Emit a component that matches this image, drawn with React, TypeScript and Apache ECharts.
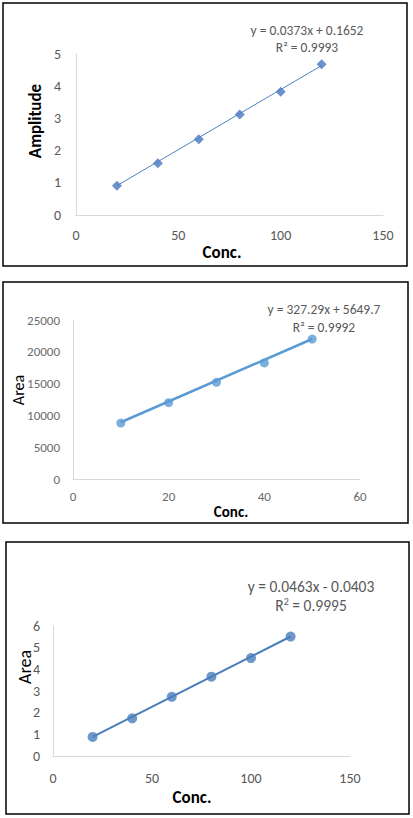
import React, { useEffect, useRef } from "react";
import * as echarts from "echarts";

// Chart 1: Amplitude vs Conc.
const ampConc = [20, 40, 60, 80, 100, 120];
const ampValues = [0.91, 1.61, 2.35, 3.12, 3.83, 4.68];
const ampFit = [0.0373, 0.1652]; // slope, intercept
const ampEquation = ["y = 0.0373x + 0.1652", "R² = 0.9993"];

// Chart 2: Area vs Conc. (0-60)
const areaAConc = [10, 20, 30, 40, 50];
const areaAValues = [8800, 12000, 15200, 18250, 22000];
const areaAFit = [327.29, 5649.7];
const areaAEquation = ["y = 327.29x + 5649.7", "R² = 0.9992"];

// Chart 3: Area vs Conc. (0-150)
const areaBConc = [20, 40, 60, 80, 100, 120];
const areaBValues = [0.88, 1.74, 2.73, 3.66, 4.52, 5.51];
const areaBFit = [0.0463, -0.0403];
const areaBEquation = ["y = 0.0463x - 0.0403", "R{sup|2} = 0.9995"];

const FONT = "Carlito, Lato, 'Open Sans', sans-serif";

function trend(conc: number[], fit: number[]) {
  const x0 = conc[0];
  const x1 = conc[conc.length - 1];
  return [
    [x0, fit[0] * x0 + fit[1]],
    [x1, fit[0] * x1 + fit[1]],
  ];
}

export default function App() {
  const ref = useRef<HTMLDivElement>(null);
  useEffect(() => {
    if (!ref.current) return;
    const chart = echarts.init(ref.current, undefined, { renderer: "svg" });
    const axisLine = { show: true, lineStyle: { color: "#D9D9D9", width: 1 } };
    const axis = (idx: number, max: number, interval: number, fs: number, margin: number, color: string) => ({
      type: "value",
      gridIndex: idx,
      min: 0,
      max,
      interval,
      axisLine,
      axisTick: { show: false },
      splitLine: { show: false },
      axisLabel: {
        fontFamily: FONT,
        fontSize: fs,
        color,
        margin,
        formatter: (v: number) => String(v),
      },
    });
    const title = (text: string, x: number, y: number, fs: number, bold: boolean, rot = 0) => ({
      type: "text",
      x,
      y,
      rotation: rot,
      style: {
        text,
        fontFamily: FONT,
        fontSize: fs,
        fontWeight: bold ? "bold" : "normal",
        fill: "#000",
        align: "center",
        verticalAlign: "middle",
      },
    });
    const eq = (lines: string[], x: number, y: number, fs: number, lh: number) => ({
      type: "text",
      x,
      y,
      style: {
        text: lines.join("\n"),
        fontFamily: FONT,
        fontSize: fs,
        lineHeight: lh,
        fill: "#595959",
        align: "center",
        verticalAlign: "top",
        rich: { sup: { fontSize: fs * 0.65, verticalAlign: "top", lineHeight: lh, fill: "#595959", fontFamily: FONT } },
      },
    });
    const border = (x: number, y: number, w: number, h: number) => ({
      type: "rect",
      shape: { x, y, width: w, height: h },
      style: { fill: "none", stroke: "#000", lineWidth: 1.5 },
      z: 0,
    });

    chart.setOption({
      animation: false,
      backgroundColor: "#fff",
      grid: [
        { left: 76, top: 54, width: 307, height: 161 },
        { left: 73, top: 320, width: 287, height: 159 },
        { left: 53, top: 626, width: 297, height: 130 },
      ],
      xAxis: [
        axis(0, 150, 50, 14, 13, "#595959"),
        axis(1, 60, 20, 13, 11, "#6b6b6b"),
        axis(2, 150, 50, 14, 15, "#595959"),
      ],
      yAxis: [
        axis(0, 5, 1, 14, 15, "#595959"),
        axis(1, 25000, 5000, 13, 13, "#6b6b6b"),
        axis(2, 6, 1, 14, 13, "#595959"),
      ],
      series: [
        {
          type: "line",
          xAxisIndex: 0,
          yAxisIndex: 0,
          data: trend(ampConc, ampFit),
          symbol: "none",
          lineStyle: { color: "#4F81BD", width: 1 },
        },
        {
          type: "scatter",
          xAxisIndex: 0,
          yAxisIndex: 0,
          data: ampConc.map((c, i) => [c, ampValues[i]]),
          symbol: "diamond",
          symbolSize: [10, 10],
          itemStyle: { color: "#4777C0" },
        },
        {
          type: "line",
          xAxisIndex: 1,
          yAxisIndex: 1,
          data: trend(areaAConc, areaAFit),
          symbol: "none",
          lineStyle: { color: "#5B9BD5", width: 2.5 },
        },
        {
          type: "scatter",
          xAxisIndex: 1,
          yAxisIndex: 1,
          data: areaAConc.map((c, i) => [c, areaAValues[i]]),
          symbol: "circle",
          symbolSize: 9,
          itemStyle: { color: "#5B9BD5" },
        },
        {
          type: "line",
          xAxisIndex: 2,
          yAxisIndex: 2,
          data: trend(areaBConc, areaBFit),
          symbol: "none",
          lineStyle: { color: "#4A7EBB", width: 2 },
        },
        {
          type: "scatter",
          xAxisIndex: 2,
          yAxisIndex: 2,
          data: areaBConc.map((c, i) => [c, areaBValues[i]]),
          symbol: "circle",
          symbolSize: 10,
          itemStyle: { color: "#4A7EBB" },
        },
      ],
      graphic: [
        border(3, 3, 404, 263),
        border(3, 282, 405, 241),
        border(6, 542, 403, 272),
        title("Amplitude", 35, 121, 17, true, Math.PI / 2),
        title("Conc.", 222, 252, 17, true),
        title("Area", 18, 390, 16, false, Math.PI / 2),
        title("Conc.", 231, 512, 15, true),
        title("Area", 25, 667, 18, false, Math.PI / 2),
        title("Conc.", 192, 797, 17, true),
        eq(ampEquation, 307, 22, 13.5, 17),
        eq(areaAEquation, 324, 300, 13.5, 18),
        eq(areaBEquation, 311, 577, 15.5, 19),
      ],
    });
    return () => chart.dispose();
  }, []);
  return (
    <div
      ref={ref}
      style={{ position: "absolute", left: 0, top: 0, width: 413, height: 818 }}
    />
  );
}
